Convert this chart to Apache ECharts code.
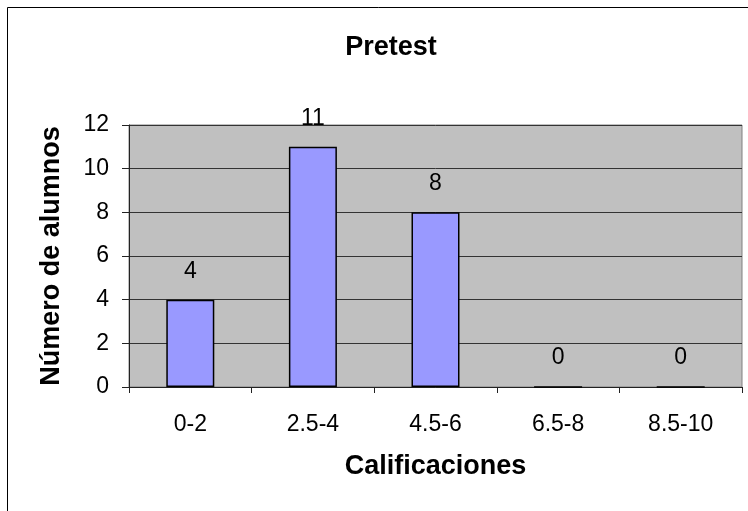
<!DOCTYPE html>
<html>
<head>
<meta charset="utf-8">
<script src="https://cdn.jsdelivr.net/npm/echarts@6/dist/echarts.min.js"></script>
<style>
html, body { margin: 0; padding: 0; background: #fff; }
#chart { width: 748px; height: 511px; }
</style>
</head>
<body>
<div id="chart"></div>
<script>
// datos
const categorias = ['0-2', '2.5-4', '4.5-6', '6.5-8', '8.5-10'];
const alumnos = [4, 11, 8, 0, 0];
const yTicks = [0, 2, 4, 6, 8, 10, 12];

const FONT = '"Liberation Sans", Arial, sans-serif';

const chart = echarts.init(document.getElementById('chart'));
const option = {
    animation: false,
    backgroundColor: '#fff',
    title: {
        text: 'Pretest',
        left: 386,
        top: 29,
        textAlign: 'center',
        textStyle: { fontFamily: FONT, fontSize: 27, fontWeight: 'bold', color: '#000' }
    },
    graphic: [{
        type: 'rect',
        shape: { x: 7.5, y: 7.5, width: 780, height: 540 },
        style: { fill: 'none', stroke: '#000', lineWidth: 1 },
        z: 0
    }],
    grid: {
        left: 129, right: 6, top: 125, bottom: 124,
        show: true,
        backgroundColor: '#C0C0C0',
        borderColor: '#808080',
        borderWidth: 1
    },
    xAxis: {
        type: 'category',
        data: categorias,
        name: 'Calificaciones',
        nameLocation: 'middle',
        nameGap: 66,
        nameTextStyle: { fontFamily: FONT, fontSize: 27, fontWeight: 'bold', color: '#000' },
        axisLine: { lineStyle: { color: '#222', width: 1 } },
        axisTick: { show: true, length: 6, alignWithLabel: false, lineStyle: { color: '#222' } },
        axisLabel: { fontFamily: FONT, fontSize: 23, color: '#000', margin: 26 }
    },
    yAxis: {
        type: 'value',
        min: yTicks[0],
        max: yTicks[yTicks.length - 1],
        interval: 2,
        name: 'Número de alumnos',
        nameLocation: 'middle',
        nameGap: 64,
        nameTextStyle: { fontFamily: FONT, fontSize: 27, fontWeight: 'bold', color: '#000' },
        axisLine: { show: true, lineStyle: { color: '#222', width: 1 } },
        axisTick: { show: true, length: 7, lineStyle: { color: '#222' } },
        axisLabel: { fontFamily: FONT, fontSize: 23, color: '#000', margin: 20 },
        splitLine: { show: true, lineStyle: { color: '#333', width: 1 } }
    },
    series: [{
        type: 'bar',
        data: alumnos,
        barWidth: 48,
        itemStyle: { color: '#9999FF', borderColor: '#000', borderWidth: 1.5 },
        label: {
            show: true,
            position: 'top',
            distance: 17,
            fontFamily: FONT,
            fontSize: 23,
            color: '#000'
        }
    }]
};
chart.setOption(option);
</script>
</body>
</html>
